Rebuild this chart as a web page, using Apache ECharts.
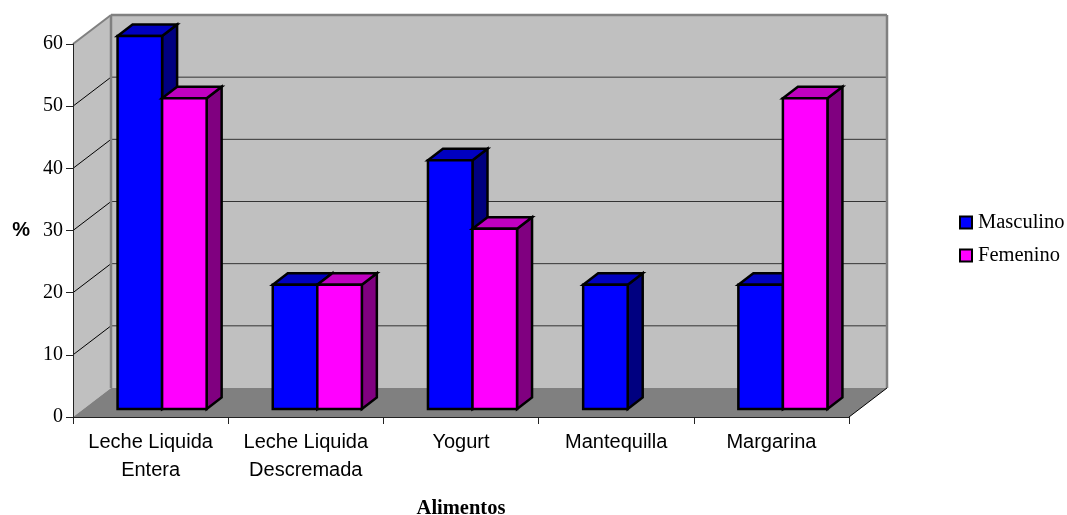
<!DOCTYPE html>
<html>
<head>
<meta charset="utf-8">
<style>html,body{margin:0;padding:0;background:#fff}#c{width:1067px;height:515px}</style>
<script src="https://cdn.jsdelivr.net/npm/echarts@6/dist/echarts.min.js"></script>
</head>
<body>
<div id="c"></div>
<script>
const categories = ['Leche Liquida\nEntera', 'Leche Liquida\nDescremada', 'Yogurt', 'Mantequilla', 'Margarina'];
const masculino = [60, 20, 40, 20, 20];
const femenino = [50, 20, 29, null, 50];
const yTicks = [0, 10, 20, 30, 40, 50, 60];

// Oblique projection of the box: how far the back wall sits from the front plane, in pixels.
const DEPTH_X = 38, DEPTH_Y = 29;
// Bars stand inside the box, starting part way along its depth.
const BAR_OFFSET_X = 11.5, BAR_OFFSET_Y = 8, BAR_DEPTH_X = 15, BAR_DEPTH_Y = 11.5;
const BAR_BAND_SHARE = 0.287;
const BAR_EDGE = 2.5;

function poly(points, fill, stroke, lineWidth) {
  return {
    type: 'polygon',
    shape: { points },
    style: { fill, stroke: stroke || null, lineWidth: lineWidth || 0, lineJoin: 'miter' }
  };
}
function seg(x1, y1, x2, y2, stroke, lineWidth) {
  return { type: 'line', shape: { x1, y1, x2, y2 }, style: { stroke, lineWidth } };
}

// Side wall, back wall, floor and their gridlines.
function renderBox(params, api) {
  const c = params.coordSys;
  const L = c.x, R = c.x + c.width, T = c.y, B = c.y + c.height;
  const children = [
    poly([[L, B], [L + DEPTH_X, B - DEPTH_Y], [L + DEPTH_X, T - DEPTH_Y], [L, T]], '#c0c0c0'),
    poly([[L + DEPTH_X, B - DEPTH_Y], [R + DEPTH_X, B - DEPTH_Y], [R + DEPTH_X, T - DEPTH_Y], [L + DEPTH_X, T - DEPTH_Y]], '#c0c0c0'),
    poly([[L, B], [R, B], [R + DEPTH_X, B - DEPTH_Y], [L + DEPTH_X, B - DEPTH_Y]], '#808080')
  ];
  yTicks.forEach(t => {
    if (t === 0 || t === yTicks[yTicks.length - 1]) return;
    const y = api.coord([0, t])[1];
    children.push(seg(L, y, L + DEPTH_X, y - DEPTH_Y, '#000', 1));
    children.push(seg(L + DEPTH_X, y - DEPTH_Y, R + DEPTH_X, y - DEPTH_Y, '#333', 1));
  });
  children.push(seg(L, T, L + DEPTH_X, T - DEPTH_Y, '#808080', 2));
  children.push(seg(L + DEPTH_X, T - DEPTH_Y, R + DEPTH_X, T - DEPTH_Y, '#808080', 2.5));
  children.push(seg(L + DEPTH_X, T - DEPTH_Y, L + DEPTH_X, B - DEPTH_Y, '#808080', 2.5));
  children.push(seg(R + DEPTH_X, T - DEPTH_Y, R + DEPTH_X, B - DEPTH_Y, '#808080', 2.5));
  children.push(seg(R, B, R + DEPTH_X, B - DEPTH_Y, '#000', 1));
  return { type: 'group', children };
}

// A bar drawn as three faces; slot 0 sits left of the band centre, slot 1 right of it.
function barRenderer(slot, front, top, side) {
  return function (params, api) {
    const v = api.value(1);
    if (v === null || isNaN(v)) return null;
    const cat = api.value(0);
    const band = api.size([1, 0])[0];
    const w = band * BAR_BAND_SHARE;
    const p = api.coord([cat, v]);
    const base = api.coord([cat, 0]);
    const x0 = p[0] - w + slot * w + BAR_OFFSET_X;
    const x1 = x0 + w;
    const yT = p[1] - BAR_OFFSET_Y;
    const yB = base[1] - BAR_OFFSET_Y;
    const dx = BAR_DEPTH_X, dy = BAR_DEPTH_Y;
    return {
      type: 'group',
      children: [
        poly([[x1, yB], [x1 + dx, yB - dy], [x1 + dx, yT - dy], [x1, yT]], side, '#000', BAR_EDGE),
        poly([[x0, yT], [x1, yT], [x1 + dx, yT - dy], [x0 + dx, yT - dy]], top, '#000', BAR_EDGE),
        poly([[x0, yB], [x1, yB], [x1, yT], [x0, yT]], front, '#000', BAR_EDGE)
      ]
    };
  };
}

const serif = '"Liberation Serif", "Times New Roman", serif';
const sans = '"Liberation Sans", Arial, sans-serif';

const chart = echarts.init(document.getElementById('c'), null, { renderer: 'canvas' });
chart.setOption({
  animation: false,
  backgroundColor: '#fff',
  grid: { left: 73, top: 44, width: 776, height: 373, containLabel: false, outerBoundsMode: 'none' },
  legend: {
    data: ['Masculino', 'Femenino'],
    orient: 'vertical',
    left: 954,
    top: 207,
    icon: 'rect',
    itemWidth: 12,
    itemHeight: 12,
    itemGap: 12,
    textStyle: { fontFamily: serif, fontSize: 20.5, color: '#000', padding: [0, 0, 0, 1] },
    itemStyle: { borderColor: '#000', borderWidth: 2 },
    selectedMode: false
  },
  xAxis: {
    type: 'category',
    data: categories,
    z: 5,
    name: 'Alimentos',
    nameLocation: 'middle',
    nameGap: 81,
    nameMoveOverlap: false,
    nameTextStyle: { fontFamily: serif, fontSize: 20.5, fontWeight: 'bold', color: '#000' },
    axisLine: { lineStyle: { color: '#222', width: 1 } },
    axisTick: { show: true, alignWithLabel: false, length: 7, lineStyle: { color: '#222', width: 1 } },
    axisLabel: { fontFamily: sans, fontSize: 20, color: '#000', margin: 11, lineHeight: 28, interval: 0 },
    splitLine: { show: false }
  },
  yAxis: {
    type: 'value',
    min: 0,
    max: 60,
    interval: 10,
    z: 5,
    name: '%',
    nameLocation: 'middle',
    nameRotate: 0,
    nameGap: 43,
    nameMoveOverlap: false,
    nameTextStyle: { fontFamily: sans, fontSize: 20, fontWeight: 'bold', color: '#000' },
    axisLine: { show: true, lineStyle: { color: '#222', width: 1 } },
    axisTick: { show: true, length: 7, lineStyle: { color: '#222', width: 1 } },
    axisLabel: { fontFamily: serif, fontSize: 20, color: '#000', margin: 10 },
    splitLine: { show: false }
  },
  series: [
    { type: 'custom', name: 'box', z: 1, silent: true, data: [[0, 0]], renderItem: renderBox },
    {
      type: 'custom', name: 'Masculino', z: 2,
      itemStyle: { color: '#0000ff' },
      encode: { x: 0, y: 1 },
      data: masculino.map((v, i) => [i, v]),
      renderItem: barRenderer(0, '#0000ff', '#0000c0', '#000080')
    },
    {
      type: 'custom', name: 'Femenino', z: 3,
      itemStyle: { color: '#ff00ff' },
      encode: { x: 0, y: 1 },
      data: femenino.map((v, i) => [i, v]),
      renderItem: barRenderer(1, '#ff00ff', '#c000c0', '#800080')
    }
  ]
});
</script>
</body>
</html>
